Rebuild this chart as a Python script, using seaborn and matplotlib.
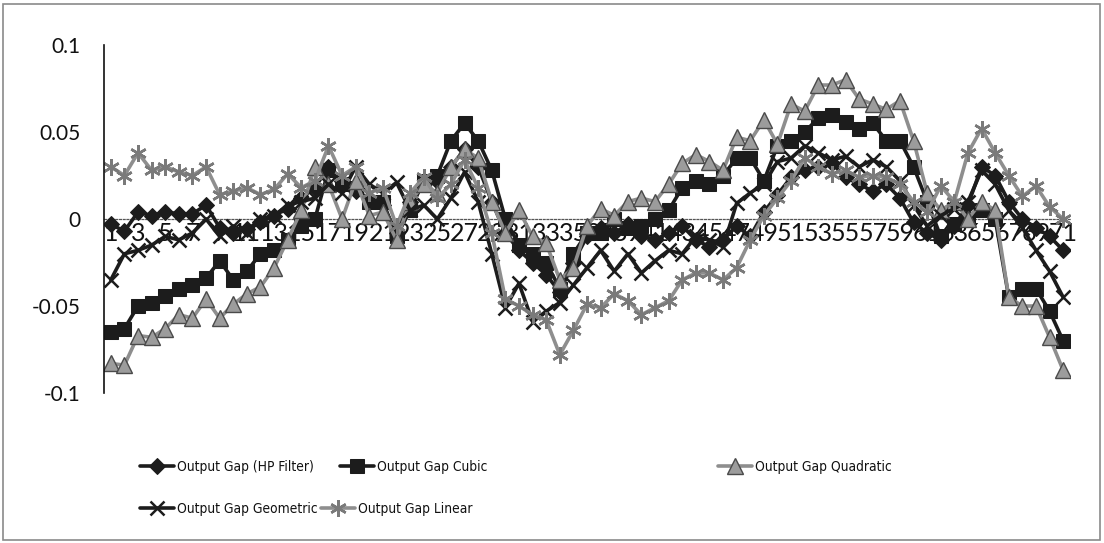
import matplotlib
matplotlib.use("Agg")
import matplotlib.pyplot as plt
from matplotlib import font_manager as fm
from matplotlib.font_manager import FontProperties
from matplotlib.patches import Rectangle
import pandas as pd
import seaborn as sns

# ---- data -------------------------------------------------------------
periods = list(range(1, 72))

hp_filter = [
    -0.003, -0.007, 0.004, 0.002, 0.004, 0.003, 0.003, 0.008, -0.005, -0.008,
    -0.006, -0.002, 0.002, 0.006, 0.012, 0.018, 0.030, 0.022, 0.016, 0.012,
    0.008, -0.008, 0.010, 0.020, 0.022, 0.030, 0.040, 0.030, 0.010, -0.008,
    -0.018, -0.025, -0.032, -0.042, -0.025, -0.010, -0.005, -0.008, -0.003, -0.010,
    -0.012, -0.008, -0.004, -0.012, -0.016, -0.012, -0.004, -0.010, 0.004, 0.014,
    0.024, 0.028, 0.030, 0.032, 0.024, 0.020, 0.016, 0.020, 0.012, -0.002,
    -0.008, -0.012, -0.004, 0.008, 0.030, 0.025, 0.010, 0.000, -0.005, -0.010,
    -0.018,
]
cubic = [
    -0.065, -0.063, -0.050, -0.048, -0.044, -0.040, -0.038, -0.034, -0.024, -0.035,
    -0.030, -0.020, -0.018, -0.012, -0.004, 0.000, 0.028, 0.020, 0.018, 0.010,
    0.010, -0.010, 0.005, 0.022, 0.025, 0.045, 0.055, 0.045, 0.028, 0.000,
    -0.015, -0.020, -0.025, -0.040, -0.020, -0.008, -0.008, 0.000, -0.005, -0.004,
    0.000, 0.005, 0.018, 0.022, 0.020, 0.025, 0.035, 0.035, 0.022, 0.042,
    0.045, 0.050, 0.058, 0.060, 0.056, 0.052, 0.055, 0.045, 0.045, 0.030,
    0.010, -0.010, -0.003, 0.000, 0.005, 0.000, -0.045, -0.040, -0.040, -0.053,
    -0.070,
]
quadratic = [
    -0.083, -0.084, -0.067, -0.068, -0.063, -0.055, -0.057, -0.046, -0.057, -0.049,
    -0.043, -0.039, -0.028, -0.012, 0.005, 0.030, 0.020, 0.000, 0.022, 0.002,
    0.004, -0.012, 0.010, 0.020, 0.015, 0.030, 0.040, 0.035, 0.010, -0.008,
    0.005, -0.010, -0.014, -0.035, -0.028, -0.004, 0.006, 0.002, 0.010, 0.012,
    0.010, 0.020, 0.032, 0.037, 0.033, 0.028, 0.047, 0.045, 0.057, 0.043,
    0.066, 0.062, 0.077, 0.077, 0.080, 0.069, 0.066, 0.063, 0.068, 0.045,
    0.015, 0.005, 0.010, 0.000, 0.010, 0.005, -0.045, -0.050, -0.050, -0.068,
    -0.087,
]
geometric = [
    -0.035, -0.020, -0.018, -0.015, -0.010, -0.012, -0.008, 0.000, -0.010, -0.004,
    -0.008, 0.000, 0.002, 0.008, 0.010, 0.012, 0.020, 0.015, 0.030, 0.020,
    0.015, 0.021, 0.005, 0.008, 0.000, 0.012, 0.027, 0.010, -0.020, -0.051,
    -0.037, -0.059, -0.053, -0.048, -0.038, -0.028, -0.018, -0.030, -0.020, -0.031,
    -0.024, -0.018, -0.020, -0.010, -0.012, -0.016, 0.009, 0.015, 0.020, 0.033,
    0.035, 0.042, 0.038, 0.034, 0.036, 0.030, 0.034, 0.030, 0.022, 0.008,
    -0.004, 0.002, 0.006, 0.010, 0.028, 0.020, 0.005, -0.005, -0.018, -0.030,
    -0.045,
]
linear = [
    0.030, 0.025, 0.038, 0.028, 0.030, 0.027, 0.025, 0.030, 0.014, 0.016,
    0.018, 0.014, 0.017, 0.026, 0.018, 0.022, 0.042, 0.025, 0.030, 0.015,
    0.018, -0.004, 0.015, 0.024, 0.012, 0.020, 0.034, 0.018, -0.008, -0.046,
    -0.050, -0.055, -0.058, -0.078, -0.064, -0.049, -0.051, -0.043, -0.047, -0.055,
    -0.051, -0.047, -0.035, -0.031, -0.031, -0.035, -0.028, -0.012, 0.002, 0.012,
    0.022, 0.035, 0.030, 0.026, 0.028, 0.024, 0.025, 0.024, 0.020, 0.010,
    0.004, 0.019, 0.010, 0.038, 0.052, 0.038, 0.025, 0.013, 0.019, 0.007,
    0.000,
]

series_names = [
    "Output Gap (HP Filter)",
    "Output Gap Cubic",
    "Output Gap Quadratic",
    "Output Gap Geometric",
    "Output Gap Linear",
]
series_values = [hp_filter, cubic, quadratic, geometric, linear]

y_ticks = [-0.1, -0.05, 0, 0.05, 0.1]
y_tick_labels = ["-0.1", "-0.05", "0", "0.05", "0.1"]
x_ticks = periods[::2]

df = pd.concat(
    [pd.DataFrame({"period": periods, "gap": vals, "series": name})
     for name, vals in zip(series_names, series_values)],
    ignore_index=True,
)

# ---- styling per series ----------------------------------------------
dark = "#1c1c1c"
grey = "#8e8e8e"
styles = {
    "Output Gap (HP Filter)": dict(color=dark, marker="D", markersize=8,
                                   markerfacecolor=dark, markeredgecolor=dark),
    "Output Gap Cubic": dict(color=dark, marker="s", markersize=10,
                             markerfacecolor=dark, markeredgecolor=dark),
    "Output Gap Quadratic": dict(color=grey, marker="^", markersize=11,
                                 markerfacecolor="#9c9c9c", markeredgecolor="#4a4a4a",
                                 markeredgewidth=1.0),
    "Output Gap Geometric": dict(color=dark, marker="x", markersize=10,
                                 markeredgewidth=1.8, markeredgecolor=dark),
    "Output Gap Linear": dict(color=grey, marker=(6, 2, 0), markersize=12,
                              markeredgewidth=1.8, markeredgecolor="#7a7a7a"),
}

sns.set_theme(style="white")
plt.rcParams["font.family"] = ["Lato", "DejaVu Sans"]


def narrow_font():
    """A regular-weight condensed face if one is installed, else Lato."""
    for f in fm.fontManager.ttflist:
        tag = (f.name + " " + str(f.stretch) + " " + f.fname).lower()
        if ("condensed" in tag or "narrow" in tag) and "semi" not in tag \
                and "extra" not in tag and "ultra" not in tag \
                and f.weight in (400, "normal", "regular") and f.style == "normal":
            return FontProperties(fname=f.fname)
    return FontProperties(family="Lato")


fig = plt.figure(figsize=(11.04, 5.43), dpi=100)
ax = fig.add_axes([104 / 1104, 1 - 393 / 543, (1070 - 104) / 1104, (393 - 45) / 543])

for name in series_names:
    sns.lineplot(data=df[df["series"] == name], x="period", y="gap",
                 ax=ax, linewidth=2.6, legend=False, label=name,
                 **styles[name])

ax.set_xlim(0.5, 71.5)
ax.set_ylim(-0.1, 0.1)
ax.set_xlabel("")
ax.set_ylabel("")

ax.set_yticks(y_ticks)
ax.set_yticklabels(y_tick_labels)
ax.set_xticks(x_ticks)
ax.set_xticklabels([str(v) for v in x_ticks])

# category axis sits on the zero line, drawn dotted
ax.spines["bottom"].set_position(("data", 0))
ax.spines["bottom"].set_linestyle((0, (1.5, 1.5)))
ax.spines["bottom"].set_linewidth(0.9)
ax.spines["bottom"].set_color("#555555")
ax.spines["bottom"].set_zorder(0.5)
ax.spines["left"].set_color("#111111")
ax.spines["left"].set_linewidth(1.2)
ax.spines["top"].set_visible(False)
ax.spines["right"].set_visible(False)

ax.tick_params(axis="x", length=0, pad=2, labelsize=18, labelcolor="#111111")
ax.tick_params(axis="y", length=0, pad=17, labelsize=15, labelcolor="#111111")
for lbl in ax.get_xticklabels():
    lbl.set_zorder(1)
ax.patch.set_alpha(0)

# ---- legend: two rows of entries placed under the plot ---------------
geometric_text_px = 140
legend_font = narrow_font()
legend_font.set_size(12)
probe = fig.text(0, 0, "Output Gap Geometric", fontproperties=legend_font)
fig.canvas.draw()
probe_w = probe.get_window_extent().width
probe.remove()
legend_font.set_size(min(16.0, 12 * geometric_text_px / probe_w))

handle_px, gap_px = 34, 3
row1_y, row2_y = 1 - 467 / 543, 1 - 509 / 543
text_end_geometric = 140 + handle_px + gap_px + geometric_text_px

lines = ax.get_lines()
handles = {l.get_label(): l for l in lines}
positions = {
    "Output Gap (HP Filter)": (140 / 1104, row1_y),
    "Output Gap Cubic": (340 / 1104, row1_y),
    "Output Gap Quadratic": (718 / 1104, row1_y),
    "Output Gap Geometric": (140 / 1104, row2_y),
    "Output Gap Linear": ((text_end_geometric + 4) / 1104, row2_y),
}
fs_px = legend_font.get_size_in_points() * 100 / 72
for name in series_names:
    fig.legend([handles[name]], [name], loc="center left",
               bbox_to_anchor=positions[name], bbox_transform=fig.transFigure,
               frameon=False, borderpad=0, borderaxespad=0,
               handlelength=handle_px / fs_px, handletextpad=gap_px / fs_px,
               prop=legend_font, labelcolor="#111111")

# chart border
fig.patches.append(Rectangle((3 / 1104, 3 / 543), 1097 / 1104, 536 / 543,
                             transform=fig.transFigure, fill=False,
                             edgecolor="#8a8a8a", linewidth=1.2))

fig.savefig("out.png", dpi=100, facecolor="white")
